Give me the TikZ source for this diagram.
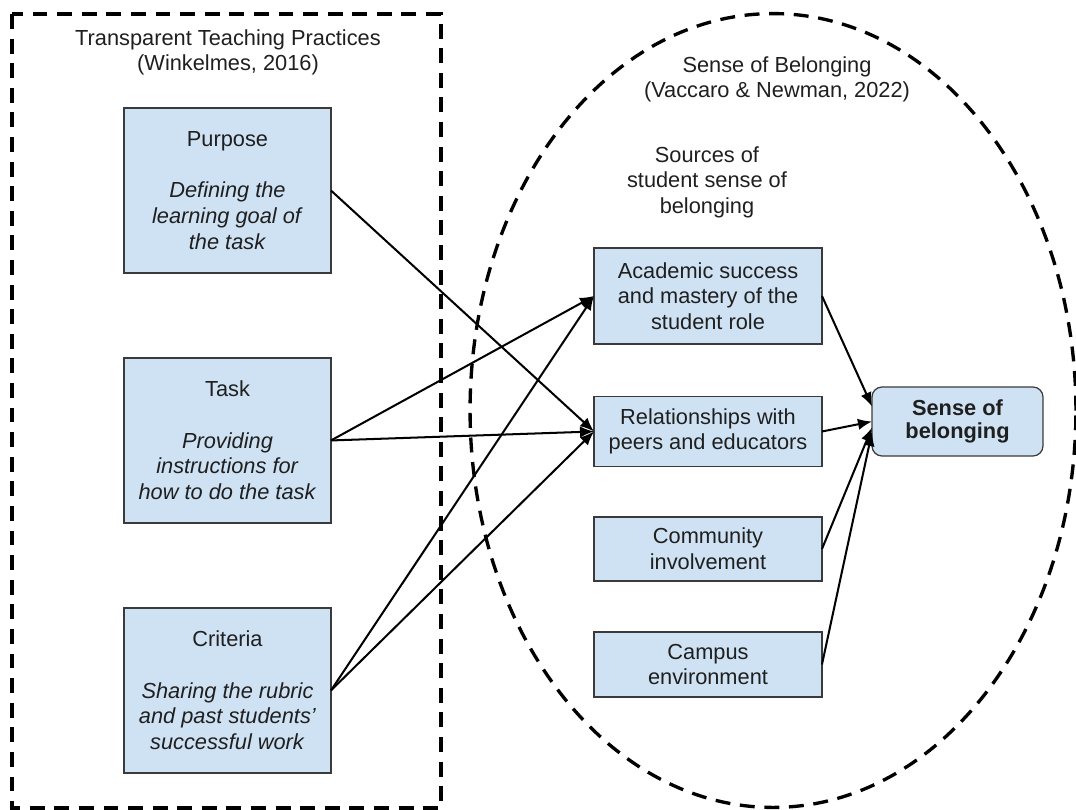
\documentclass[tikz,border=0pt]{standalone}
\usepackage{fontspec}
\setmainfont{Liberation Sans}
\usetikzlibrary{arrows.meta,positioning}
\definecolor{boxblue}{HTML}{CFE2F3}
\definecolor{boxline}{HTML}{3A3A3A}
\definecolor{ink}{HTML}{1F1F1F}
\tikzset{
  px/.style={x=0.02cm,y=-0.02cm},
  txt/.style={font=\fontsize{12.4}{14.6}\selectfont,text=ink,align=center},
  practice/.style={txt,draw=boxline,fill=boxblue,line width=0.7pt,minimum width=4.14cm,minimum height=3.3cm,inner sep=0pt,outer sep=0pt},
  source/.style={txt,draw=boxline,fill=boxblue,line width=0.7pt,minimum width=4.56cm,inner sep=0pt,outer sep=0pt},
  belong/.style={source,minimum width=3.42cm,minimum height=1.38cm,rounded corners=0.2cm,font=\fontsize{12.4}{13.4}\selectfont\bfseries},
  heading/.style={txt,anchor=north,inner sep=0pt},
  frame/.style={line width=1.9pt,dash pattern=on 8.5pt off 5.5pt},
  link/.style={line width=1.15pt,-{Latex[length=8pt,width=6.5pt]}}
}
\begin{document}
\begin{tikzpicture}[px]
        \useasboundingbox (0,0) rectangle (1076,809);
        \draw[frame] (12,14) rectangle (441,808);
        \draw[frame] (773,410.5) ellipse [x radius=6.06cm,y radius=7.94cm];
        \path (228,29) node[heading] (ttp) {Transparent Teaching Practices\\(Winkelmes, 2016)};
        \path (777,56) node[heading] (sob) {Sense of Belonging\\(Vaccaro \& Newman, 2022)};
        \path (707,146) node[heading] (sources) {Sources of\\student sense of\\belonging};
        \path (227.5,190.5) node[practice] (purpose) {Purpose\\[14.6pt]\textit{Defining the}\\\textit{learning goal of}\\\textit{the task}};
        \path node[practice,below of=purpose,node distance=5cm] (task) {Task\\[14.6pt]\textit{Providing}\\\textit{instructions for}\\\textit{how to do the task}};
        \path node[practice,below of=task,node distance=5cm] (criteria) {Criteria\\[14.6pt]\textit{Sharing the rubric}\\\textit{and past students'}\\\textit{successful work}};
        \path (708,296) node[source,minimum height=1.92cm] (academic) {Academic success\\and mastery of the\\student role};
        \path node[source,minimum height=1.4cm,below of=academic,node distance=2.71cm] (relations) {Relationships with\\peers and educators};
        \path node[source,minimum height=1.28cm,below of=relations,node distance=2.35cm] (community) {Community\\involvement};
        \path node[source,minimum height=1.3cm,below of=community,node distance=2.31cm] (campus) {Campus\\environment};
        \path (957.5,421.5) node[belong] (sense) {Sense of\\belonging};
        \draw[link] (purpose.east) -- (relations.west);
        \draw[link] (task.east) -- (academic.west);
        \draw[link] (task.east) -- (relations.west);
        \draw[link] (criteria.east) -- (academic.west);
        \draw[link] (criteria.east) -- (relations.west);
        \draw[link] (academic.east) -- (sense.170);
        \draw[link] (relations.east) -- (sense.west);
        \draw[link] (community.east) -- (sense.184);
        \draw[link] (campus.east) -- (sense.187);
\end{tikzpicture}
\end{document}
